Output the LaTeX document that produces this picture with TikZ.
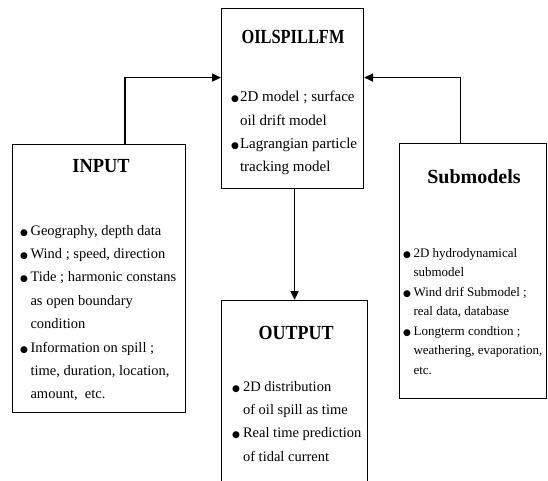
\documentclass[tikz,border=0pt]{standalone}
\usepackage{fontspec}
\setmainfont{Liberation Serif}
\newfontfamily\symfont{DejaVu Sans}
\usetikzlibrary{arrows.meta}
\newcommand\bul{{\symfont\fontsize{9}{9}\selectfont ●}}
\begin{document}
\begin{tikzpicture}[x=1pt,y=-1pt,
  box/.style={draw=black, line width=1.1pt, anchor=north west, inner sep=0pt},
  conn/.style={draw=black, line width=1.8pt, -{Triangle[length=9pt,width=8pt]}},
  ttl/.style={anchor=base, font=\fontsize{20}{20}\selectfont\bfseries, inner sep=0pt},
  bodyA/.style={anchor=base west, inner sep=0pt, font=\fontsize{14.5}{23.4}\selectfont},
  bodyB/.style={anchor=base west, inner sep=0pt, font=\fontsize{15}{23.3}\selectfont},
  bodyC/.style={anchor=base west, inner sep=0pt, font=\fontsize{13}{19.5}\selectfont},
]
\clip (0,0) rectangle (548,481);
% boxes
\node[box, minimum width=142pt, minimum height=180pt] (oil) at (221,8) {};
\node[box, minimum width=173pt, minimum height=268pt] (inp) at (12,144) {};
\node[box, minimum width=147pt, minimum height=255pt] (sub) at (399,143) {};
\node[box, minimum width=146pt, minimum height=200pt] (out) at (221,300) {};
% titles
\node[ttl] (toil) at (293,44) {\scalebox{0.82}[1]{OILSPILLFM}};
\node[ttl] (tinp) at (101,172) {\scalebox{0.92}[1]{INPUT}};
\node[ttl] (tout) at (296,339) {\scalebox{0.9}[1]{OUTPUT}};
\node[ttl] (tsub) at (474,183) {Submodels};
% bodies
\node[bodyB] (boil) at (231,102) {\begin{tabular}[t]{@{}l@{\hspace{1pt}}l@{}}
\bul & 2D model ; surface\\
 & oil drift model\\
\bul & Lagrangian particle\\
 & tracking model
\end{tabular}};
\node[bodyA] (binp) at (20,235) {\begin{tabular}[t]{@{}l@{\hspace{2.5pt}}l@{}}
\bul & Geography, depth data\\
\bul & Wind ; speed, direction\\
\bul & Tide ; harmonic constans\\
 & as open boundary\\
 & condition\\
\bul & Information on spill ;\\
 & time, duration, location,\\
 & amount, \ etc.
\end{tabular}};
\node[bodyC] (bsub) at (403,257) {\begin{tabular}[t]{@{}l@{\hspace{2.5pt}}l@{}}
\bul & 2D hydrodynamical\\
 & submodel\\
\bul & Wind drif Submodel ;\\
 & real data, database\\
\bul & Longterm condtion ;\\
 & weathering, evaporation,\\
 & etc.
\end{tabular}};
\node[bodyA] (bout) at (232,391) {\begin{tabular}[t]{@{}l@{\hspace{3pt}}l@{}}
\bul & 2D distribution\\
 & of oil spill as time\\
\bul & Real time prediction\\
 & of tidal current
\end{tabular}};
% connectors
\draw[conn] ([xshift=26pt]inp.north) |- ([yshift=21pt]oil.west);
\draw[conn] ([xshift=-12.5pt]sub.north) |- ([yshift=21pt]oil.east);
\draw[conn] (out.north |- oil.south) -- (out.north);
\end{tikzpicture}
\end{document}
